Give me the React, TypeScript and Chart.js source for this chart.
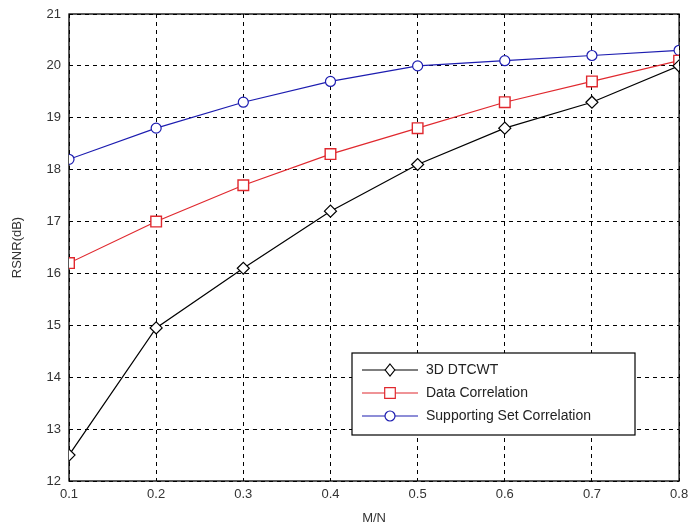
import React, { useEffect, useRef } from "react";
import { Chart, registerables } from "chart.js";

Chart.register(...registerables);

const xValues = [0.1, 0.2, 0.3, 0.4, 0.5, 0.6, 0.7, 0.8];
const xTickLabels = ["0.1", "0.2", "0.3", "0.4", "0.5", "0.6", "0.7", "0.8"];
const yTickLabels = ["12", "13", "14", "15", "16", "17", "18", "19", "20", "21"];
const dtcwt = [12.5, 14.95, 16.1, 17.2, 18.1, 18.8, 19.3, 20.0];
const dataCorr = [16.2, 17.0, 17.7, 18.3, 18.8, 19.3, 19.7, 20.1];
const supportCorr = [18.2, 18.8, 19.3, 19.7, 20.0, 20.1, 20.2, 20.3];
const seriesNames = ["3D DTCWT", "Data Correlation", "Supporting Set Correlation"];
const xTitle = "M/N";
const yTitle = "RSNR(dB)";

const FONT = "Arial, 'Liberation Sans', sans-serif";

export default function App() {
  const ref = useRef<HTMLCanvasElement | null>(null);
  useEffect(() => {
    if (!ref.current) return;
    const mk = (vals: number[]) => vals.map((v, i) => ({ x: xValues[i], y: v }));
    const borderPlugin = {
      id: "plotBorder",
      beforeDatasetsDraw(chart: any) {
        const { ctx, chartArea: a } = chart;
        ctx.save();
        ctx.strokeStyle = "#000";
        ctx.lineWidth = 1.3;
        ctx.setLineDash([]);
        ctx.strokeRect(a.left, a.top, a.right - a.left, a.bottom - a.top);
        ctx.restore();
      },
    };
    const legendPlugin = {
      id: "boxLegend",
      afterDraw(chart: any) {
        const { ctx } = chart;
        const bx = 352, by = 353, bw = 283, bh = 82;
        ctx.save();
        ctx.fillStyle = "#fff";
        ctx.fillRect(bx, by, bw, bh);
        ctx.strokeStyle = "#000";
        ctx.lineWidth = 1.2;
        ctx.setLineDash([]);
        ctx.strokeRect(bx, by, bw, bh);
        ctx.font = `14px ${FONT}`;
        ctx.textBaseline = "middle";
        chart.data.datasets.forEach((ds: any, i: number) => {
          const y = by + 17 + i * 23;
          ctx.strokeStyle = ds.borderColor;
          ctx.lineWidth = 1.2;
          ctx.beginPath();
          ctx.moveTo(bx + 10, y);
          ctx.lineTo(bx + 66, y);
          ctx.stroke();
          ctx.fillStyle = "#fff";
          const r = ds.pointRadius;
          const cx = bx + 38;
          ctx.beginPath();
          if (ds.pointStyle === "rectRot") {
            ctx.moveTo(cx, y - r);
            ctx.lineTo(cx + r * 0.8, y);
            ctx.lineTo(cx, y + r);
            ctx.lineTo(cx - r * 0.8, y);
            ctx.closePath();
          } else if (ds.pointStyle === "rect") {
            const s = r * Math.SQRT1_2;
            ctx.rect(cx - s, y - s, 2 * s, 2 * s);
          } else {
            ctx.arc(cx, y, r, 0, Math.PI * 2);
          }
          ctx.fill();
          ctx.stroke();
          ctx.fillStyle = "#222";
          ctx.fillText(ds.label, bx + 74, y);
        });
        ctx.restore();
      },
    };
    const chart = new Chart(ref.current, {
      type: "line",
      data: {
        datasets: [
          {
            label: seriesNames[0],
            data: mk(dtcwt),
            borderColor: "#000",
            backgroundColor: "#fff",
            borderWidth: 1.2,
            pointStyle: "rectRot",
            pointRadius: 6,
            pointBorderWidth: 1.2,
          },
          {
            label: seriesNames[1],
            data: mk(dataCorr),
            borderColor: "#e0282e",
            backgroundColor: "#fff",
            borderWidth: 1.2,
            pointStyle: "rect",
            pointRadius: 7.5,
            pointBorderWidth: 1.4,
          },
          {
            label: seriesNames[2],
            data: mk(supportCorr),
            borderColor: "#1c1cb0",
            backgroundColor: "#fff",
            borderWidth: 1.2,
            pointStyle: "circle",
            pointRadius: 5,
            pointBorderWidth: 1.2,
          },
        ],
      },
      options: {
        animation: false,
        responsive: false,
        maintainAspectRatio: false,
        layout: { padding: { top: 14, right: 8, left: 0, bottom: 0 } },
        plugins: { legend: { display: false }, tooltip: { enabled: false } },
        scales: {
          x: {
            type: "linear",
            min: 0.1,
            max: 0.8,
            afterBuildTicks: (s: any) => {
              s.ticks = xValues.map((v) => ({ value: v }));
            },
            afterFit: (s: any) => {
              s.height = 51;
              s.paddingLeft = 0;
              s.paddingRight = 0;
            },
            ticks: {
              callback: (_v: any, i: number) => xTickLabels[i],
              font: { family: FONT, size: 13 },
              color: "#333",
              padding: 6,
              maxRotation: 0,
              autoSkip: false,
            },
            grid: { color: "#000", lineWidth: 1, drawTicks: false },
            border: { display: false, dash: [4, 4] },
            title: {
              display: true,
              text: xTitle,
              font: { family: FONT, size: 13 },
              color: "#333",
              padding: { top: 4, bottom: 6 },
            },
          },
          y: {
            min: 12,
            max: 21,
            afterBuildTicks: (s: any) => {
              s.ticks = yTickLabels.map((t) => ({ value: Number(t) }));
            },
            afterFit: (s: any) => {
              s.width = 69;
              s.paddingTop = 0;
              s.paddingBottom = 0;
            },
            ticks: {
              callback: (_v: any, i: number) => yTickLabels[i],
              font: { family: FONT, size: 13 },
              color: "#333",
              padding: 8,
              autoSkip: false,
            },
            grid: { color: "#000", lineWidth: 1, drawTicks: false },
            border: { display: false, dash: [4, 4] },
            title: {
              display: true,
              text: yTitle,
              font: { family: FONT, size: 13 },
              color: "#333",
              padding: { top: 10, bottom: 4 },
            },
          },
        },
      },
      plugins: [borderPlugin, legendPlugin],
    } as any);
    return () => chart.destroy();
  }, []);
  return (
    <div style={{ position: "fixed", left: 0, top: 0, width: 688, height: 532, background: "#fff" }}>
      <canvas ref={ref} width={688} height={532} style={{ width: 688, height: 532 }} />
    </div>
  );
}
